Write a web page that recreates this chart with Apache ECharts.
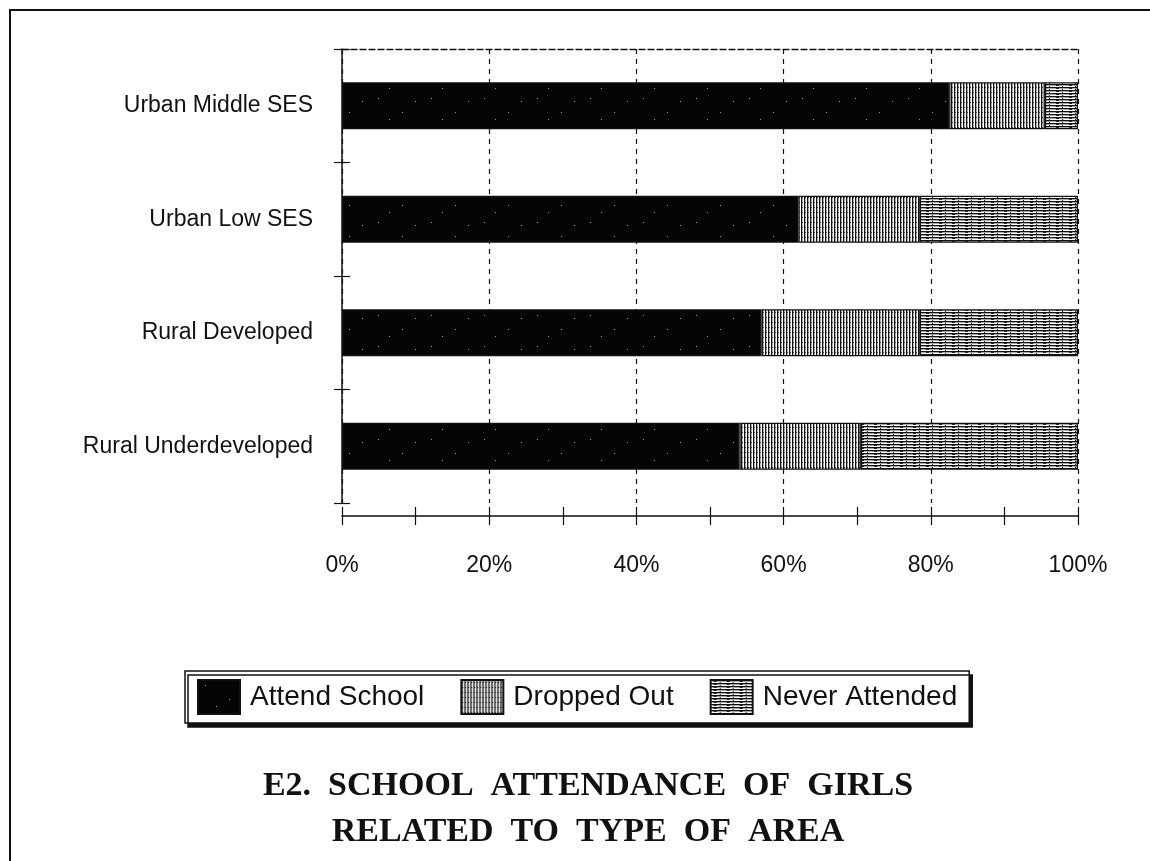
<!DOCTYPE html>
<html>
<head>
<meta charset="utf-8">
<title>School attendance of girls by type of area</title>
<script src="https://cdn.jsdelivr.net/npm/echarts@6/dist/echarts.min.js"></script>
<style>
  html, body { margin: 0; padding: 0; background: #ffffff; }
  #chart { width: 1150px; height: 861px; }
</style>
</head>
<body>
<div id="chart"></div>
<script>
// Areas, top to bottom
const areas = ['Urban Middle SES', 'Urban Low SES', 'Rural Developed', 'Rural Underdeveloped'];

// Share of girls (%) in each area
const attendSchool  = [82.5, 62.0, 57.0, 54.0];
const droppedOut    = [13.0, 16.5, 21.5, 16.5];
const neverAttended = [ 4.5, 21.5, 21.5, 29.5];

const seriesNames = ['Attend School', 'Dropped Out', 'Never Attended'];
const titleLines = ['E2.  SCHOOL  ATTENDANCE  OF  GIRLS', 'RELATED  TO  TYPE  OF  AREA'];

// Small repeating canvas tiles used as hatch fills
function tile(w, h, draw) {
  const c = document.createElement('canvas');
  c.width = w; c.height = h;
  draw(c.getContext('2d'), w, h);
  return { image: c, repeat: 'repeat' };
}
// near-solid black with a few light specks
const solidFill = tile(53, 31, (g, w, h) => {
  g.fillStyle = '#050505'; g.fillRect(0, 0, w, h);
  g.fillStyle = '#9a9a9a';
  g.fillRect(7, 5, 1, 1); g.fillRect(31, 19, 1, 1); g.fillRect(44, 8, 1, 1); g.fillRect(18, 26, 1, 1);
});
// vertical hatching
const verticalFill = tile(3, 5, (g, w, h) => {
  g.fillStyle = '#ffffff'; g.fillRect(0, 0, w, h);
  g.fillStyle = '#111111'; g.fillRect(0, 0, 1, h);
  g.fillStyle = '#b0b0b0'; g.fillRect(1, 0, 1, h);
  g.fillStyle = '#444444'; g.fillRect(1, 2, 1, 1);
});
// horizontal hatching, slightly ragged
const horizontalFill = tile(13, 3, (g, w, h) => {
  g.fillStyle = '#ffffff'; g.fillRect(0, 0, w, h);
  g.fillStyle = '#111111'; g.fillRect(0, 0, w, 1);
  g.fillStyle = '#a8a8a8'; g.fillRect(0, 1, w, 1);
  g.fillStyle = '#222222'; g.fillRect(3, 1, 3, 1); g.fillRect(9, 2, 1, 1);
});
const fills = [solidFill, verticalFill, horizontalFill];
const values = [attendSchool, droppedOut, neverAttended];

const ink = '#111111';
const sans = '"Liberation Sans", Arial, sans-serif';
const serif = '"Liberation Serif", "Times New Roman", serif';

const chart = echarts.init(document.getElementById('chart'), null, { renderer: 'canvas' });

const valueAxisBase = { type: 'value', min: 0, max: 100, interval: 20 };

chart.setOption({
  animation: false,
  backgroundColor: '#ffffff',
  textStyle: { fontFamily: sans, color: ink },
  title: {
    text: titleLines.join('\n'),
    left: 583,
    top: 758,
    textAlign: 'center',
    textStyle: {
      fontFamily: serif, fontWeight: 'bold', fontSize: 34, lineHeight: 46, color: ink
    }
  },
  legend: {
    data: seriesNames,
    left: 185,
    top: 671,
    orient: 'horizontal',
    icon: 'rect',
    itemWidth: 42,
    itemHeight: 34,
    itemGap: 36,
    padding: [8, 12],
    backgroundColor: '#ffffff',
    borderColor: ink,
    borderWidth: 1.5,
    shadowColor: ink,
    shadowBlur: 0,
    shadowOffsetX: 3,
    shadowOffsetY: 4,
    textStyle: { fontFamily: sans, fontSize: 28, color: ink, padding: [0, 0, 0, 5] }
  },
  grid: { left: 342, right: 72, top: 49, height: 454, containLabel: false },
  xAxis: [
    Object.assign({}, valueAxisBase, {
      position: 'bottom',
      offset: 13,
      axisLine: { show: true, lineStyle: { color: ink, width: 1.5 } },
      axisTick: { show: true, inside: false, length: 9, lineStyle: { color: ink, width: 1.2 } },
      minorTick: { show: true, splitNumber: 2, length: 9, lineStyle: { color: ink, width: 1.2 } },
      axisLabel: { formatter: '{value}%', fontFamily: sans, fontSize: 23, color: ink, margin: 38 },
      splitLine: { show: true, lineStyle: { color: ink, width: 1.2, type: [5, 5] } }
    }),
    Object.assign({}, valueAxisBase, {
      position: 'bottom',
      offset: 13,
      axisLine: { show: false },
      axisTick: { show: true, inside: true, length: 9, lineStyle: { color: ink, width: 1.2 } },
      minorTick: { show: true, splitNumber: 2, length: 9, lineStyle: { color: ink, width: 1.2 } },
      axisLabel: { show: false },
      splitLine: { show: false }
    }),
    Object.assign({}, valueAxisBase, {
      position: 'top',
      axisLine: { show: true, lineStyle: { color: ink, width: 1.3, type: [6, 3] } },
      axisTick: { show: false },
      axisLabel: { show: false },
      splitLine: { show: false }
    })
  ],
  yAxis: [
    {
      type: 'category',
      data: areas,
      inverse: true,
      position: 'left',
      axisLine: { show: true, lineStyle: { color: ink, width: 1.5 } },
      axisTick: { show: true, inside: false, length: 8, lineStyle: { color: ink, width: 1.2 } },
      axisLabel: { fontFamily: sans, fontSize: 23, color: ink, margin: 29 },
      splitLine: { show: false }
    },
    {
      type: 'category',
      data: areas,
      inverse: true,
      position: 'left',
      axisLine: { show: false },
      axisTick: { show: true, inside: true, length: 8, lineStyle: { color: ink, width: 1.2 } },
      axisLabel: { show: false },
      splitLine: { show: false }
    }
  ],
  series: seriesNames.map((name, i) => ({
    name: name,
    type: 'bar',
    stack: 'share',
    xAxisIndex: 0,
    yAxisIndex: 0,
    barWidth: 47,
    data: values[i],
    itemStyle: { color: fills[i], borderColor: ink, borderWidth: 1.3 },
    emphasis: { disabled: true }
  })),
  graphic: [
    {
      type: 'rect',
      shape: { x: 10, y: 10, width: 1200, height: 900 },
      style: { fill: 'none', stroke: ink, lineWidth: 2 },
      silent: true
    }
  ]
});
</script>
</body>
</html>
